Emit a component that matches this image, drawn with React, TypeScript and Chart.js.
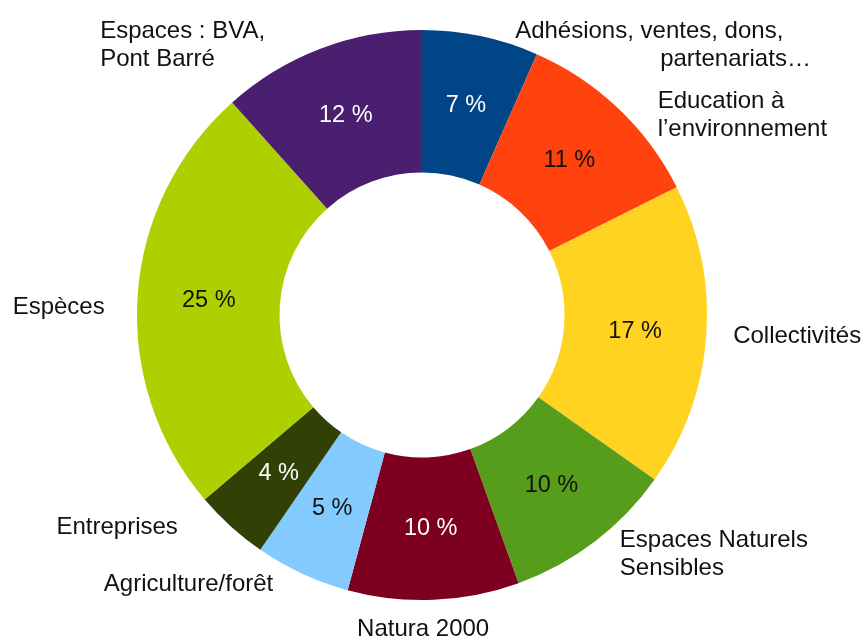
import { useEffect, useRef } from 'react';
import { Chart, registerables } from 'chart.js';

Chart.register(...registerables);

// ---- data ----
const categories: string[][] = [
  ['Adhésions, ventes, dons,', 'partenariats…'],
  ['Education à', 'l’environnement'],
  ['Collectivités'],
  ['Espaces Naturels', 'Sensibles'],
  ['Natura 2000'],
  ['Agriculture/forêt'],
  ['Entreprises'],
  ['Espèces'],
  ['Espaces : BVA,', 'Pont Barré'],
];
const shares = [6.6, 11.0, 17.2, 9.7, 9.7, 5.4, 4.2, 24.6, 11.6];

// ---- styles ----
const sliceColors = ['#004586', '#ff420e', '#ffd320', '#579d1c', '#7e0021', '#83caff', '#314004', '#aecf00', '#4b1f6f'];
const pctTextColors = ['#ffffff', '#111111', '#111111', '#111111', '#ffffff', '#111111', '#ffffff', '#111111', '#ffffff'];
const FONT = '24px "Liberation Sans", Arial, sans-serif';
const PCT_FONT = '23.5px "Liberation Sans", Arial, sans-serif';
const LINE_H = 28;
const LABEL_GAP = 12;
const labelNudges: { align: CanvasTextAlign; dx: number; dy: number; lineDx?: number[] }[] = [
  { align: 'left', dx: 32, dy: 21, lineDx: [0, 145] },
  { align: 'left', dx: 31, dy: 16 },
  { align: 'left', dx: 15, dy: -1 },
  { align: 'left', dx: 18, dy: 3 },
  { align: 'center', dx: -11, dy: 18 },
  { align: 'right', dx: -24, dy: 0 },
  { align: 'right', dx: -45, dy: -8 },
  { align: 'right', dx: -21, dy: 13 },
  { align: 'left', dx: -216, dy: 8 },
];

const sliceLabels = {
  id: 'sliceLabels',
  afterDatasetsDraw(chart: any) {
    const ctx = chart.ctx as CanvasRenderingContext2D;
    const meta = chart.getDatasetMeta(0);
    const total = shares.reduce((a, b) => a + b, 0);
    ctx.save();
    ctx.textBaseline = 'middle';
    meta.data.forEach((arc: any, i: number) => {
      const p = arc.getProps(['x', 'y', 'startAngle', 'endAngle', 'outerRadius', 'innerRadius'], true);
      const mid = (p.startAngle + p.endAngle) / 2;
      const c = arc.tooltipPosition(true);
      ctx.font = PCT_FONT;
      ctx.fillStyle = pctTextColors[i];
      ctx.textAlign = 'center';
      ctx.fillText(`${Math.round((shares[i] / total) * 100)} %`, c.x, c.y);

      const r = p.outerRadius + LABEL_GAP;
      const ax = p.x + Math.cos(mid) * r;
      const ay = p.y + Math.sin(mid) * r;
      const n = labelNudges[i];
      const lines = categories[i];
      ctx.font = FONT;
      ctx.fillStyle = '#111111';
      ctx.textAlign = n.align;
      const top = ay + n.dy - ((lines.length - 1) * LINE_H) / 2;
      lines.forEach((ln, j) => {
        ctx.fillText(ln, ax + n.dx + (n.lineDx ? n.lineDx[j] : 0), top + j * LINE_H);
      });
    });
    ctx.restore();
  },
};

export default function App() {
  const ref = useRef<HTMLCanvasElement>(null);
  useEffect(() => {
    if (!ref.current) return;
    const chart = new Chart(ref.current, {
      type: 'doughnut',
      data: {
        labels: categories.map((l) => l.join(' ')),
        datasets: [
          {
            data: shares,
            backgroundColor: sliceColors,
            borderWidth: 0,
          },
        ],
      },
      options: {
        responsive: false,
        devicePixelRatio: 1,
        animation: false,
        cutout: '50%',
        layout: { padding: { left: 137, right: 160, top: 30, bottom: 41 } },
        plugins: { legend: { display: false }, tooltip: { enabled: false } },
      },
      plugins: [sliceLabels],
    });
    return () => chart.destroy();
  }, []);
  return (
    <div style={{ position: 'fixed', left: 0, top: 0, width: 867, height: 641, background: '#fff' }}>
      <canvas ref={ref} width={867} height={641} style={{ display: 'block' }} />
    </div>
  );
}
